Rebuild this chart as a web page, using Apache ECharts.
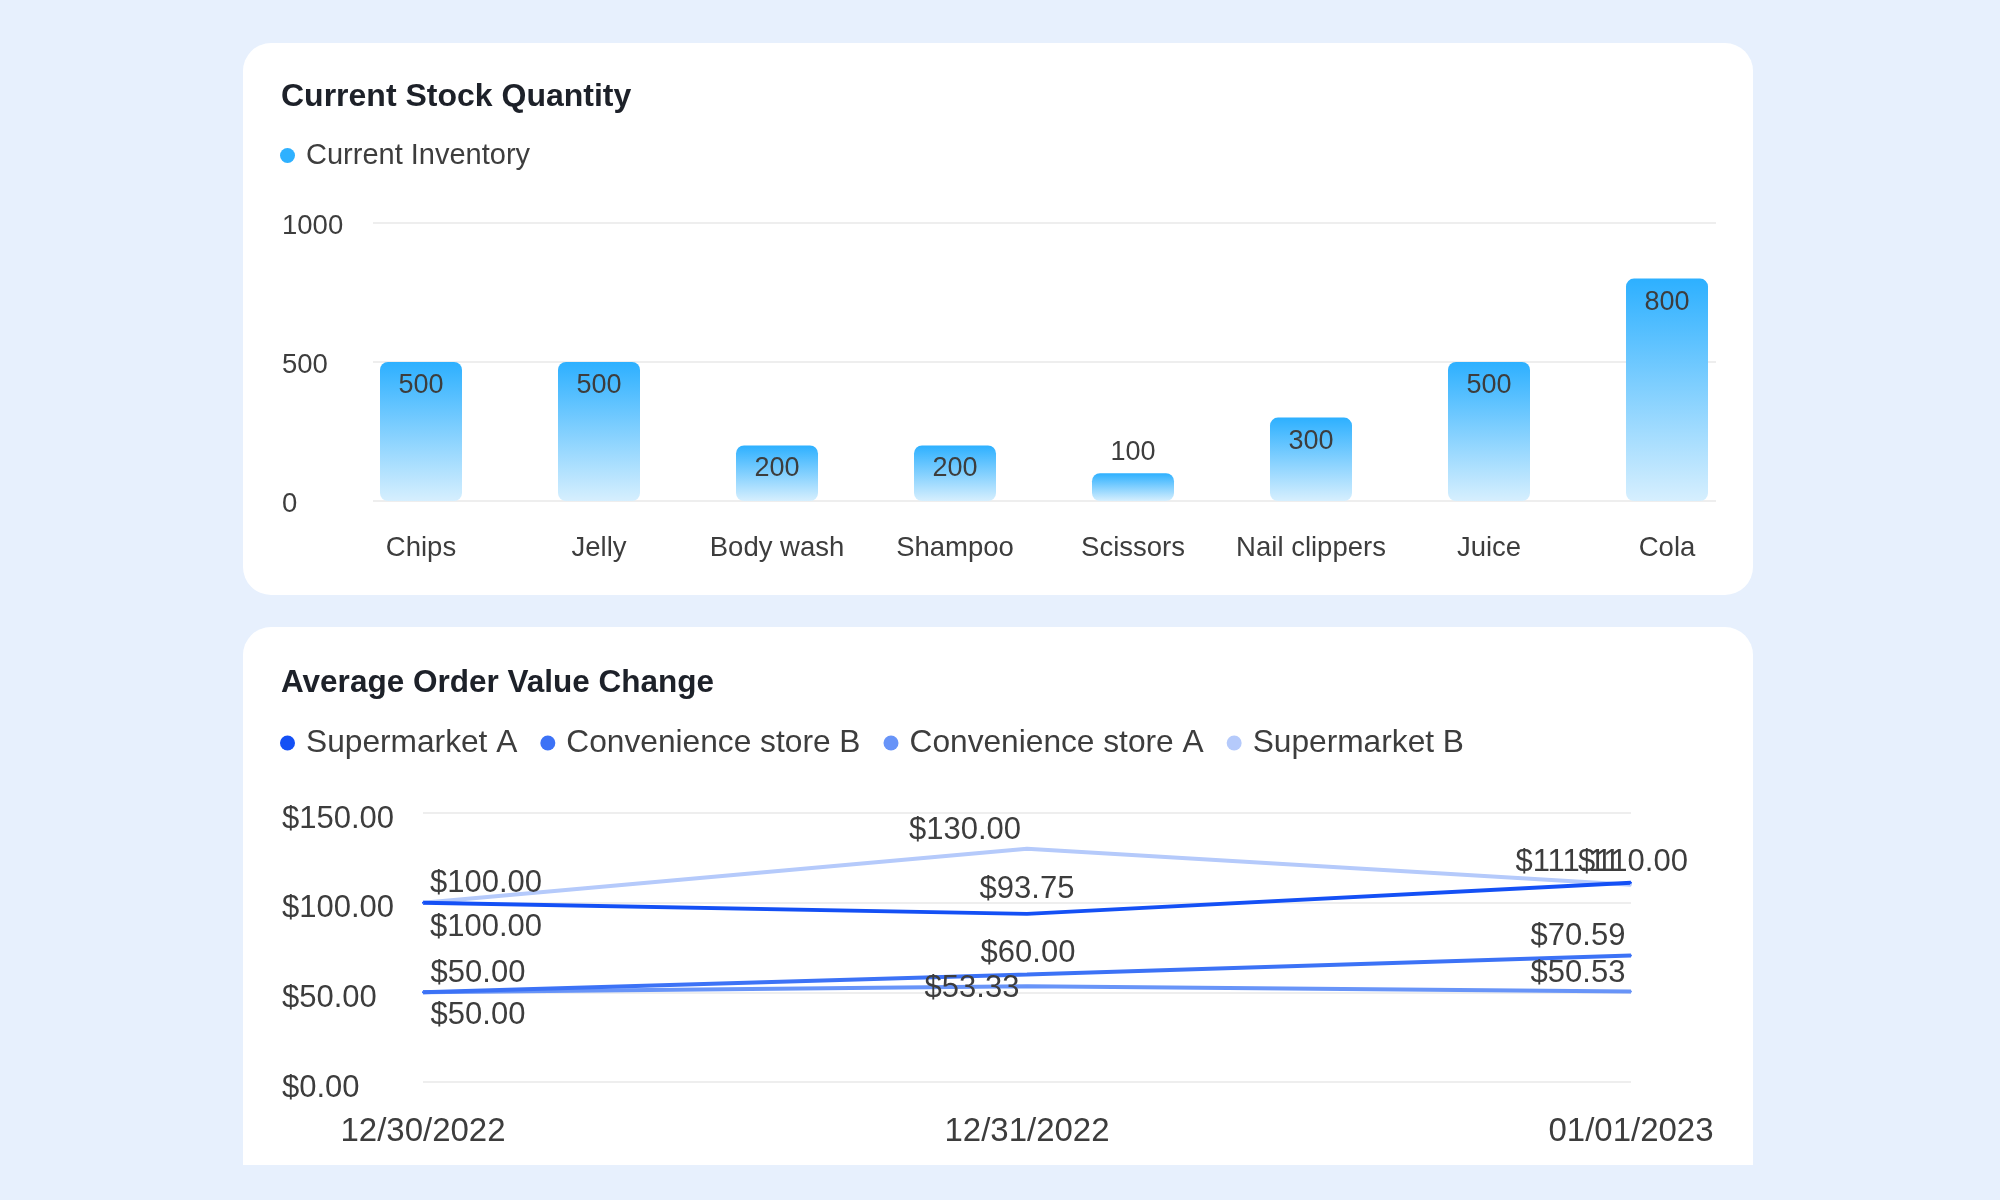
<!DOCTYPE html>
<html>
<head>
<meta charset="utf-8">
<title>Store dashboard</title>
<script src="https://cdn.jsdelivr.net/npm/echarts@6/dist/echarts.min.js"></script>
<style>
  html, body { margin: 0; padding: 0; background: #e7f0fd; }
  .panel { position: absolute; left: 243px; width: 1510px; background: #fff; }
  #stockPanel { top: 43px; height: 552px; border-radius: 28px; }
  #aovPanel { top: 627px; height: 538px; border-radius: 28px 28px 0 0; }
  #main { position: absolute; left: 0; top: 0; width: 2000px; height: 1200px; }
</style>
</head>
<body>
<div class="panel" id="stockPanel"></div>
<div class="panel" id="aovPanel"></div>
<div id="main"></div>
<script>
// stock chart
const categories = ['Chips', 'Jelly', 'Body wash', 'Shampoo', 'Scissors', 'Nail clippers', 'Juice', 'Cola'];
const inventory = [500, 500, 200, 200, 100, 300, 500, 800];
const stockTicks = [0, 500, 1000];

// average order value chart
const dates = ['12/30/2022', '12/31/2022', '01/01/2023'];
const supermarketA = [100, 93.75, 111.11];
const convenienceB = [50, 60, 70.59];
const convenienceA = [50, 53.33, 50.53];
const supermarketB = [100, 130, 110];
const aovTicks = [0, 50, 100, 150];

const FONT = '"Liberation Sans", Arial, sans-serif';
const TEXT = '#3d3d3d';
const TITLE = '#1d2129';
const GRIDLINE = '#eeeeee';

function money(v) {
  return '$' + Number(v).toFixed(2);
}

// label offsets (px) for each point, so labels sit where the original put them
const aovLines = [
  { name: 'Supermarket B', values: supermarketB, color: '#b5cafb', shift: [[63, -19], [-62, -18], [2, -22]] },
  { name: 'Convenience store A', values: convenienceA, color: '#6894f8', shift: [[55, 23], [-55, 2], [-53, -18]] },
  { name: 'Convenience store B', values: convenienceB, color: '#3c72f6', shift: [[55, -19], [1, -21], [-53, -19]] },
  { name: 'Supermarket A', values: supermarketA, color: '#1450f5', shift: [[63, 25], [0, -24], [-63, -20]] }
];
const legendOrder = ['Supermarket A', 'Convenience store B', 'Convenience store A', 'Supermarket B'];

var chart = echarts.init(document.getElementById('main'));

var barColor = {
  type: 'linear', x: 0, y: 0, x2: 0, y2: 1,
  colorStops: [
    { offset: 0, color: '#2db0ff' },
    { offset: 1, color: '#d6effe' }
  ]
};

var option = {
  animation: false,
  textStyle: { fontFamily: FONT },
  title: [
    {
      text: 'Current Stock Quantity', left: 281, top: 81, padding: 0,
      textStyle: { fontSize: 32, fontWeight: 'bold', color: TITLE, fontFamily: FONT }
    },
    {
      text: 'Average Order Value Change', left: 281, top: 667, padding: 0,
      textStyle: { fontSize: 31.5, fontWeight: 'bold', color: TITLE, fontFamily: FONT }
    }
  ],
  legend: [
    {
      left: 280, top: 141, padding: 0, icon: 'circle', itemWidth: 27, itemHeight: 15,
      selectedMode: false,
      data: [{ name: 'Current Inventory', itemStyle: { color: '#2fb1ff' } }],
      textStyle: { fontSize: 29, color: TEXT, fontFamily: FONT }
    },
    {
      left: 280, top: 727, padding: 0, icon: 'circle', itemWidth: 27, itemHeight: 15, itemGap: 23,
      selectedMode: false,
      data: legendOrder,
      textStyle: { fontSize: 31.7, color: TEXT, fontFamily: FONT }
    }
  ],
  grid: [
    // bars (bands reach a little past the gridlines)
    { left: 332, right: 244, top: 223, bottom: 699 },
    // gridlines + value labels of the stock chart
    { left: 373, right: 284, top: 223, bottom: 699 },
    // lines
    { left: 423, right: 369, top: 813, bottom: 118 }
  ],
  xAxis: [
    {
      type: 'category', gridIndex: 0, data: categories,
      axisLine: { show: false }, axisTick: { show: false },
      axisLabel: { interval: 0, margin: 33, fontSize: 27.5, color: TEXT, fontFamily: FONT }
    },
    { type: 'value', gridIndex: 1, show: false },
    {
      type: 'category', gridIndex: 2, data: dates, boundaryGap: false,
      axisLine: { show: false }, axisTick: { show: false },
      axisLabel: { interval: 0, margin: 33, fontSize: 33, color: TEXT, fontFamily: FONT }
    }
  ],
  yAxis: [
    { type: 'value', gridIndex: 0, min: stockTicks[0], max: stockTicks[stockTicks.length - 1], show: false },
    {
      type: 'value', gridIndex: 1,
      min: stockTicks[0], max: stockTicks[stockTicks.length - 1], interval: stockTicks[1] - stockTicks[0],
      axisLine: { show: false }, axisTick: { show: false },
      splitLine: { lineStyle: { color: GRIDLINE, width: 2 } },
      // labels sit a touch below their gridline
      axisLabel: {
        align: 'left', verticalAlign: 'top', lineHeight: 6, margin: 91,
        fontSize: 27.5, color: TEXT, fontFamily: FONT,
        formatter: function (v) { return String(v); }
      }
    },
    {
      type: 'value', gridIndex: 2,
      min: aovTicks[0], max: aovTicks[aovTicks.length - 1], interval: aovTicks[1] - aovTicks[0],
      axisLine: { show: false }, axisTick: { show: false },
      splitLine: { lineStyle: { color: GRIDLINE, width: 2 } },
      axisLabel: {
        align: 'left', verticalAlign: 'top', lineHeight: 12, margin: 141,
        fontSize: 31, color: TEXT, fontFamily: FONT, formatter: money
      }
    }
  ],
  series: [
    {
      type: 'bar', name: 'Current Inventory', xAxisIndex: 0, yAxisIndex: 0,
      barWidth: 82,
      // short bars get their label on top
      data: inventory.map(function (v) {
        return v < 150 ? { value: v, label: { position: 'top', distance: 7 } } : v;
      }),
      itemStyle: { color: barColor, borderRadius: 8 },
      label: {
        show: true, position: 'insideTop', distance: 10,
        fontSize: 27, color: TEXT, fontFamily: FONT, textBorderWidth: 0
      },
      emphasis: { disabled: true }
    }
  ].concat(aovLines.map(function (s) {
    return {
      type: 'line', name: s.name, xAxisIndex: 2, yAxisIndex: 2,
      symbol: 'circle', symbolSize: 2,
      data: s.values.map(function (v, i) {
        return { value: v, label: { offset: s.shift[i] } };
      }),
      lineStyle: { color: s.color, width: 4 },
      itemStyle: { color: s.color },
      label: {
        show: true, position: 'inside',
        fontSize: 31, color: TEXT, fontFamily: FONT, textBorderWidth: 0,
        formatter: function (p) { return money(p.value); }
      },
      emphasis: { disabled: true }
    };
  }))
};

chart.setOption(option);
</script>
</body>
</html>
